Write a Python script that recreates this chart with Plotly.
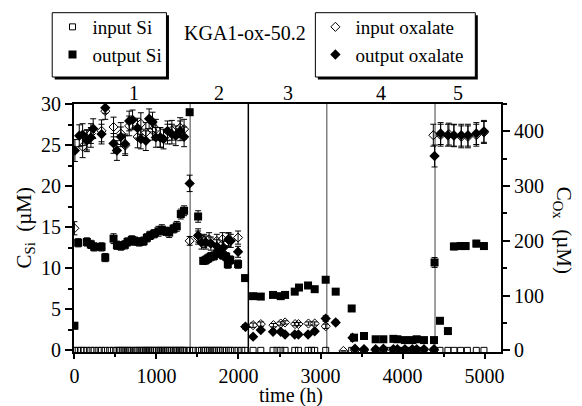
import plotly.graph_objects as go

# ---------------- data ----------------
# input Si (open squares, left axis, µM)
t_in_si = [0, 46, 80, 110, 152, 200, 241, 290, 331, 376, 430, 477, 518, 545, 566, 590, 615, 648,
           670, 700, 737, 760, 790, 815, 843, 865, 883, 905, 924, 950, 972, 1000, 1025, 1045,
           1066, 1090, 1114, 1135, 1155, 1180, 1208, 1230, 1248, 1275, 1297, 1320, 1337, 1365,
           1405, 1450, 1508, 1550, 1575, 1600, 1625, 1650, 1680, 1705, 1730, 1760, 1780, 1810,
           1850, 1880, 1905, 1950, 1995, 2040, 2080, 2178, 2272, 2421, 2470, 2515, 2568, 2686,
           2731, 2848, 2890, 2929, 3063, 3380, 3420, 3530, 3672, 3766, 3820, 3888, 3937, 3980,
           4029, 4075, 4119, 4172, 4220, 4261, 4383, 4456, 4553, 4626, 4708, 4790, 4899, 4992]
v_in_si = [0, 0, 0, 0, 0, 0, 0, 0, 0, 0, 0, 0, 0, 0, 0, 0, 0, 0,
           0, 0, 0, 0, 0, 0, 0, 0, 0, 0, 0, 0, 0, 0, 0, 0,
           0, 0, 0, 0, 0, 0, 0, 0, 0, 0, 0, 0, 0, 0,
           0, 0, 0, 0, 0, 0, 0, 0, 0, 0, 0, 0, 0, 0,
           0, 0, 0, 0, 0, 0, 0, 0, 0, 0, 0, 0, 0, 0,
           0, 0, 0, 0, 0, 0, 0, 0, 0, 0, 0, 0, 0, 0,
           0, 0, 0, 0, 0, 0, 0, 0, 0, 0, 0, 0, 0, 0]

# output Si (filled squares, left axis, µM)
t_out_si = [0, 46, 152, 200, 241, 331, 376, 477, 518, 566, 615, 648, 700, 737, 790, 843, 883,
            924, 972, 1025, 1066, 1114, 1155, 1208, 1248, 1297, 1337, 1405,
            1508, 1570, 1600, 1630, 1660, 1700, 1740, 1780, 1810, 1850, 1870, 1900, 1995, 2080,
            2178, 2272, 2421, 2515, 2568, 2686, 2738, 2848, 2929, 3063, 3185,
            3380, 3408, 3530, 3672, 3766, 3888, 3937, 4029, 4119, 4172, 4261, 4383,
            4390, 4456, 4553, 4626, 4708, 4769, 4899, 4992]
v_out_si = [3.0, 13.1, 13.2, 12.9, 12.6, 12.6, 11.3, 13.6, 12.8, 12.7, 12.85, 13.2, 13.45, 13.3,
            13.2, 13.3, 13.7, 14.0, 14.2, 14.5, 14.7, 14.5, 14.35, 14.8, 15.1, 16.6, 17.0, 29.0,
            16.3, 10.9, 11.0, 11.2, 11.4, 11.5, 11.8, 11.9, 11.6, 11.4, 10.5, 11.0, 10.5, 8.8,
            6.6, 6.55, 6.75, 6.6, 6.75, 7.15, 7.65, 7.9, 7.45, 8.6, 7.15,
            5.1, 1.55, 1.75, 1.35, 1.35, 1.4, 1.35, 1.25, 1.25, 1.35, 1.25, 1.25,
            10.7, 3.6, 2.35, 12.65, 12.7, 12.7, 13.0, 12.7]
e_out_si = [0.4, 0.5, 0.5, 0.5, 0.5, 0.5, 0.5, 0.6, 0.5, 0.5, 0.5, 0.5, 0.5, 0.5,
            0.5, 0.5, 0.5, 0.5, 0.5, 0.6, 0.6, 0.5, 0.6, 0.5, 0.6, 0.6, 0.6, 0.3,
            0.7, 0.4, 0.5, 0.5, 0.5, 0.5, 0.5, 0.5, 0.5, 0.5, 0.5, 0.5, 0.5, 0.3,
            0.2, 0.2, 0.2, 0.2, 0.2, 0.2, 0.2, 0.2, 0.2, 0.3, 0.2,
            0.2, 0.2, 0.2, 0.2, 0.2, 0.2, 0.2, 0.2, 0.2, 0.2, 0.2, 0.2,
            0.6, 0.2, 0.2, 0.4, 0.4, 0.4, 0.4, 0.4]

# input oxalate (open diamonds, right axis, µM)
t_in_ox = [0, 100, 152, 201, 331, 376, 477, 566, 619, 668, 770, 810, 871, 952, 993, 1046, 1135,
           1188, 1289, 1337, 1405,
           1508, 1581, 1642, 1736, 1805, 1878, 1995, 2085,
           2178, 2272, 2426, 2515, 2568, 2690, 2731, 2853, 2929, 3063,
           3279, 3420, 3530, 3672, 3766, 3888, 4029, 4172, 4383,
           4375, 4464, 4565, 4626, 4716, 4797, 4899, 4992]
v_in_ox = [223, 372, 383, 396, 401, 437, 408, 396, 374, 410, 390, 414, 398, 402, 404, 389, 395,
           402, 407, 404, 200,
           206, 200, 203, 200, 203, 202, 206, 43,
           46, 48, 46, 49, 51, 48, 48, 49, 49, 44,
           -1, 0, 0, 0, 0, 0, 0, 0, 0,
           393, 393, 395, 392, 390, 390, 393, 398]
e_in_ox = [12, 20, 20, 18, 20, 15, 18, 20, 18, 18, 20, 20, 18, 18, 18, 18, 18,
           18, 18, 18, 8,
           12, 12, 12, 12, 12, 12, 12, 4,
           4, 4, 3, 3, 3, 3, 3, 3, 3, 4,
           0, 0, 0, 0, 0, 0, 0, 0, 0,
           20, 20, 20, 20, 20, 20, 20, 20]

# output oxalate (filled diamonds, right axis, µM)
t_out_ox = [6, 59, 100, 152, 201, 229, 331, 376, 477, 518, 566, 619, 668, 709, 770, 810, 871,
            911, 952, 993, 1046, 1086, 1135, 1188, 1236, 1289, 1337, 1405,
            1508, 1549, 1602, 1663, 1736, 1817, 1878, 1906, 1995, 2085,
            2178, 2272, 2421, 2515, 2568, 2686, 2731, 2848, 2929, 3063, 3185,
            3390, 3420, 3530, 3672, 3766, 3888, 3937, 4029, 4119, 4172, 4261, 4383,
            4390, 4464, 4553, 4626, 4716, 4797, 4899, 4992]
v_out_ox = [365, 392, 394, 384, 389, 405, 395, 443, 378, 365, 390, 377, 419, 421, 406, 386, 383,
            423, 417, 389, 389, 386, 401, 395, 392, 401, 390, 305,
            210, 197, 197, 195, 190, 188, 203, 200, 180, 43,
            25, 37, 34, 34, 29, 29, 29, 29, 35, 58, 51,
            23, 3, 2, 2, 3, 2, 2, 2, 2, 2, 2, 2,
            355, 396, 393, 393, 393, 393, 396, 400]
e_out_ox = [20, 20, 20, 18, 18, 18, 18, 10, 18, 18, 18, 18, 18, 18, 18, 18, 18,
            18, 18, 18, 18, 18, 18, 18, 18, 18, 18, 15,
            12, 12, 12, 12, 12, 12, 12, 12, 10, 4,
            3, 3, 3, 3, 3, 3, 3, 3, 3, 5, 4,
            3, 0, 0, 0, 0, 0, 0, 0, 0, 0, 0, 0,
            20, 20, 20, 20, 20, 20, 20, 20]

phase_bounds = [1411, 2120, 3076, 4396]
phase_colors = ["#808080", "#000000", "#808080", "#808080"]
phase_labels = ["1", "2", "3", "4", "5"]
phase_label_x = [725, 1760, 2601, 3734, 4673]

x_ticks = [0, 1000, 2000, 3000, 4000, 5000]
y_ticks = [0, 5, 10, 15, 20, 25, 30]
y2_ticks = [0, 100, 200, 300, 400]

# ---------------- layout helpers (pixel -> paper) ----------------
W, H = 582, 406
PL, PR, PT, PB = 73.5, 500.7, 104, 352
def px(x):
    return (x - PL) / (PR - PL)
def py(y):
    return (PB - y) / (PB - PT)

FONT = "Liberation Serif"
err = lambda arr: dict(type="data", array=arr, visible=True, color="black", thickness=1, width=3)

fig = go.Figure()
fig.add_trace(go.Scatter(x=t_in_si, y=v_in_si, mode="markers", name="input Si",
                         marker=dict(symbol="square-open", size=6, color="black", line=dict(width=1)),
                         legend="legend", yaxis="y"))
fig.add_trace(go.Scatter(x=t_out_si, y=v_out_si, mode="markers", name="output Si",
                         marker=dict(symbol="square", size=8, color="black"),
                         error_y=err(e_out_si), legend="legend", yaxis="y"))
fig.add_trace(go.Scatter(x=t_in_ox, y=v_in_ox, mode="markers", name="input oxalate",
                         marker=dict(symbol="diamond-open", size=7, color="black", line=dict(width=1)),
                         error_y=err(e_in_ox), legend="legend2", yaxis="y2"))
fig.add_trace(go.Scatter(x=t_out_ox, y=v_out_ox, mode="markers", name="output oxalate",
                         marker=dict(symbol="diamond", size=8, color="black"),
                         error_y=err(e_out_ox), legend="legend2", yaxis="y2"))

shapes = []
for xb, c in zip(phase_bounds, phase_colors):
    shapes.append(dict(type="line", xref="x", yref="paper", x0=xb, x1=xb, y0=0, y1=1,
                       line=dict(color=c, width=1.5), layer="below"))
# legend boxes with shadow
for (x0, y0, x1, y1) in [(51.7, 12.7, 166, 77), (315, 12.7, 475, 77)]:
    shapes.append(dict(type="rect", xref="paper", yref="paper",
                       x0=px(x0 + 2.5), x1=px(x1 + 2.5), y0=py(y0 + 2.5), y1=py(y1 + 2.5),
                       fillcolor="black", line=dict(width=0)))
    shapes.append(dict(type="rect", xref="paper", yref="paper",
                       x0=px(x0), x1=px(x1), y0=py(y0), y1=py(y1),
                       fillcolor="white", line=dict(color="black", width=1)))

annotations = []
for lab, lx in zip(phase_labels, phase_label_x):
    annotations.append(dict(text=lab, x=lx, xref="x", y=py(93), yref="paper", showarrow=False,
                            xanchor="center", yanchor="middle", font=dict(family=FONT, size=20, color="black")))
annotations.append(dict(text="KGA1-ox-50.2", x=px(245), y=py(33), xref="paper", yref="paper",
                        showarrow=False, xanchor="center", yanchor="middle",
                        font=dict(family=FONT, size=20, color="black")))
annotations.append(dict(text="time (h)", x=px(291), y=py(395), xref="paper", yref="paper",
                        showarrow=False, xanchor="center", yanchor="middle",
                        font=dict(family=FONT, size=20, color="black")))
annotations.append(dict(text="C<sub>Si</sub>  (µM)", x=px(24), y=py(228), xref="paper", yref="paper",
                        showarrow=False, textangle=-90, xanchor="center", yanchor="middle",
                        font=dict(family=FONT, size=21, color="black")))
annotations.append(dict(text="C<sub>Ox</sub>  (µM)", x=px(563), y=py(230), xref="paper", yref="paper",
                        showarrow=False, textangle=90, xanchor="center", yanchor="middle",
                        font=dict(family=FONT, size=21, color="black")))

axis_common = dict(showgrid=False, zeroline=False, showline=True, linecolor="black", linewidth=2,
                   ticks="outside", tickcolor="black", tickwidth=2, automargin=False,
                   tickfont=dict(family=FONT, size=20, color="black"))

fig.update_layout(
    width=W, height=H,
    margin=dict(l=PL, r=W - PR, t=PT, b=H - PB, pad=0, autoexpand=False),
    paper_bgcolor="white", plot_bgcolor="white",
    font=dict(family=FONT, size=20, color="black"),
    xaxis=dict(range=[-5, 5200], tickvals=x_ticks, mirror=True, ticklen=5,
               minor=dict(dtick=500, tick0=0, ticks="outside", ticklen=3, tickwidth=2, tickcolor="black"),
               **axis_common),
    yaxis=dict(range=[-0.2, 30], tickvals=y_ticks, ticklen=7,
               minor=dict(dtick=2.5, tick0=0, ticks="outside", ticklen=4, tickwidth=2, tickcolor="black"),
               **axis_common),
    yaxis2=dict(range=[-3, 450], tickvals=y2_ticks, overlaying="y", side="right", anchor="x", ticklen=7,
                minor=dict(dtick=50, tick0=0, ticks="outside", ticklen=4, tickwidth=2, tickcolor="black"),
                **axis_common),
    legend=dict(x=px(52), y=py(8), xanchor="left", yanchor="top", bgcolor="rgba(0,0,0,0)",
                borderwidth=0, font=dict(family=FONT, size=19, color="black"),
                itemsizing="trace", tracegroupgap=0),
    legend2=dict(x=px(315), y=py(8), xanchor="left", yanchor="top", bgcolor="rgba(0,0,0,0)",
                 borderwidth=0, font=dict(family=FONT, size=19, color="black"),
                 itemsizing="trace", tracegroupgap=0),
    shapes=shapes,
    annotations=annotations,
    showlegend=True,
)

fig.write_html("out.html")
